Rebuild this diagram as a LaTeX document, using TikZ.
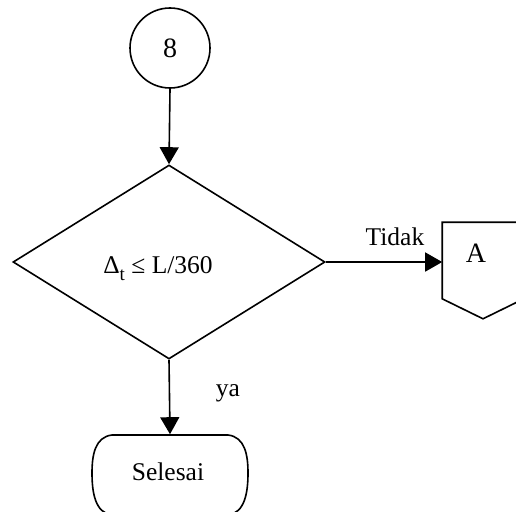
\documentclass[tikz,border=0pt]{standalone}
\usepackage{fontspec}
\setmainfont{Liberation Serif}
\usetikzlibrary{shapes.geometric,arrows.meta,calc}
\begin{document}
\begin{tikzpicture}[x=1pt,y=-1pt,
  line width=1.6pt,
  txt/.style={font=\fontsize{25.5}{30}\selectfont, inner sep=0pt},
  arr/.style={-{Triangle[length=17pt,width=19pt]}},
  ]
\useasboundingbox (0,0) rectangle (516,511);
\clip (0,0) rectangle (516,511);
% start connector
\node[circle, draw, minimum size=80pt, inner sep=0pt, font=\fontsize{28}{30}\selectfont] (c8) at (170,48) {8};
% decision
\node[diamond, draw, minimum width=312pt, minimum height=194pt, inner sep=0pt] (dia) at (169,262) {};
\node[txt] (dtext) at (158,269) {Δ\raisebox{-0.28em}{\fontsize{19}{20}\selectfont t}\ ≤ L/360};
% off-page connector A
\node[minimum width=80pt, minimum height=95pt, inner sep=0pt] (A) at (483,270.5) {};
\draw (A.north west) -- (A.north east) -- ($(A.south east)+(0,-20)$) -- (A.south) -- ($(A.south west)+(0,-20)$) -- cycle;
\node[txt, font=\fontsize{28}{30}\selectfont] (Atext) at (476,253) {A};
% terminal
\node[minimum width=156pt, minimum height=80pt, inner sep=0pt] (sel) at (170,475) {};
\draw (112,435) -- (228,435) .. controls (245,437) and (248,455) .. (248,473)
      .. controls (248,492) and (245,513) .. (228,515) -- (112,515)
      .. controls (95,513) and (92,492) .. (92,473)
      .. controls (92,455) and (95,437) .. (112,435) -- cycle;
\node[txt] (seltext) at (168,472) {Selesai};
% connectors
\draw[arr] (c8.south) -- (dia.north);
\draw[arr] (dia.east) -- (dia.east -| A.west);
\draw[arr] (dia.south) -- (sel.north);
% labels
\node[txt] (tidak) at (395,237) {Tidak};
\node[txt] (ya) at (228,393) {ya};
\end{tikzpicture}
\end{document}
